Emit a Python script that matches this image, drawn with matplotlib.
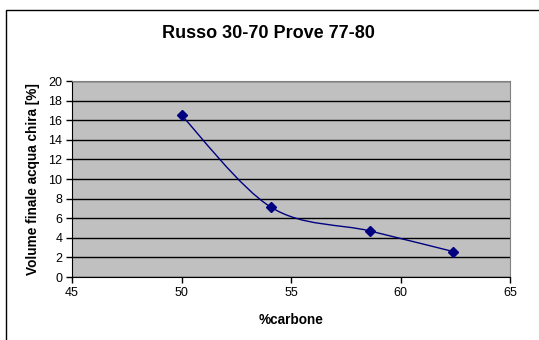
import matplotlib
matplotlib.use("Agg")
import matplotlib.pyplot as plt
import numpy as np
from matplotlib.path import Path
from matplotlib.patches import PathPatch, Rectangle

carbone = [50.0, 54.1, 58.6, 62.4]
volume = [16.5, 7.1, 4.7, 2.6]

plt.rcParams['font.family'] = ['Liberation Sans', 'DejaVu Sans']

fig = plt.figure(figsize=(5.39, 3.40), dpi=100)
ax = fig.add_axes([72 / 539, 1 - 277 / 340, (510 - 72) / 539, (277 - 81) / 340])

# chart frame, runs off the right and bottom edges
fig.patches.append(Rectangle((6 / 539, -0.05), 1.1, 1 - 10 / 340 + 0.05,
                             transform=fig.transFigure, fill=False,
                             edgecolor='black', linewidth=1.0))

ax.set_facecolor('#C0C0C0')
ax.set_xlim(45, 65)
ax.set_ylim(0, 20)
ax.set_xticks(np.arange(45, 66, 5))
ax.set_yticks(np.arange(0, 21, 2))
ax.yaxis.grid(True, color='black', linewidth=1.0)
ax.set_axisbelow(True)

for side in ('top', 'right'):
    ax.spines[side].set_color('#808080')
for side in ('left', 'bottom'):
    ax.spines[side].set_color('black')
ax.tick_params(direction='out', length=4, width=1, labelsize=9, pad=3)

# smoothed line through the points (cubic Bezier, Excel-style)
xy = np.column_stack([carbone, volume])
verts = [tuple(xy[0])]
codes = [Path.MOVETO]
n = len(xy)
for i in range(n - 1):
    p0 = xy[max(i - 1, 0)]
    p1 = xy[i]
    p2 = xy[i + 1]
    p3 = xy[min(i + 2, n - 1)]
    c1 = p1 + (p2 - p0) / 6
    c2 = p2 - (p3 - p1) / 6
    verts += [tuple(c1), tuple(c2), tuple(p2)]
    codes += [Path.CURVE4] * 3
ax.add_patch(PathPatch(Path(verts, codes), fill=False, edgecolor='#000080',
                       linewidth=1.0, zorder=3))
ax.plot(carbone, volume, linestyle='none', marker='D', markersize=5,
        color='#000080', zorder=4)

ax.set_xlabel('%carbone', fontsize=9.8, fontweight='bold', labelpad=10)
ax.set_ylabel('Volume finale acqua chira [%]', fontsize=9.8,
              fontweight='bold', labelpad=6)
fig.text(268 / 539, 1 - 33 / 340, 'Russo 30-70 Prove 77-80', fontsize=13,
         fontweight='bold', ha='center', va='center')

fig.savefig('out.png', dpi=100)
